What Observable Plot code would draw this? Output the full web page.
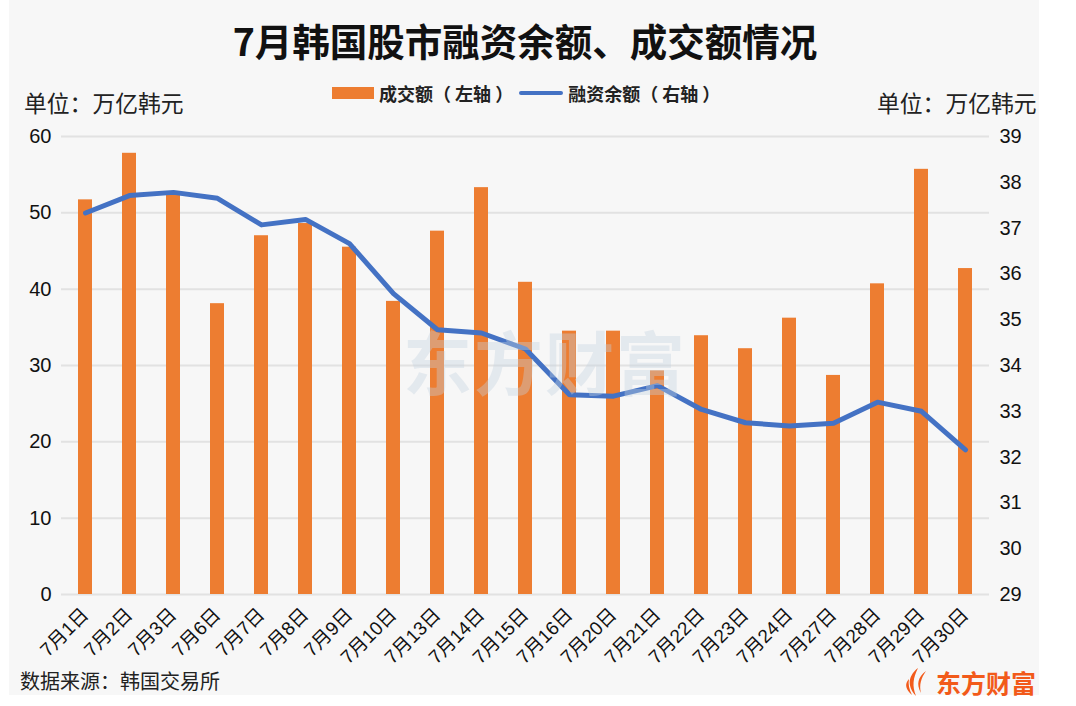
<!DOCTYPE html>
<html>
<head>
<meta charset="utf-8">
<script src="https://cdn.jsdelivr.net/npm/d3@7"></script>
<script src="https://cdn.jsdelivr.net/npm/@observablehq/plot@0.6"></script>
<style>
  html, body { margin: 0; padding: 0; background: #ffffff; }
  #wrap { position: relative; width: 1076px; height: 706px; overflow: hidden;
    font-family: "Liberation Sans", Arial, "Noto Sans CJK SC", sans-serif; }
  #bg { position: absolute; left: 9px; top: 0; width: 1030px; height: 695px; background: #f7f7f7; }
  .abs { position: absolute; white-space: nowrap; }
  #title { left: 0; width: 1050px; top: 12px; text-align: center; font-size: 37.5px; font-weight: 700; color: #111;
    font-family: "Noto Sans CJK SC", sans-serif; }
  .unit { top: 86px; font-size: 22.8px; color: #222; font-family: "Noto Sans CJK SC", sans-serif; }
  #legend { top: 80px; left: 332px; font-size: 18px; font-weight: 700; color: #222; font-family: "Noto Sans CJK SC", sans-serif; display: flex; align-items: center; }
  #source { left: 20px; top: 666px; font-size: 20px; color: #222; font-family: "Noto Sans CJK SC", sans-serif; }
  #logo { left: 903px; top: 664px; font-size: 25px; font-weight: 700; color: #f25a1a; font-family: "Noto Sans CJK SC", sans-serif; display: flex; align-items: center; }
  #wm { left: 403px; top: 310px; font-size: 69px; font-weight: 700; color: #c5d3e0; opacity: 0.38; font-family: "Noto Sans CJK SC", sans-serif; letter-spacing: 2px; pointer-events: none; }
  #chart { position: absolute; left: 0; top: 0; }
</style>
</head>
<body>
<div id="wrap">
  <div id="bg"></div>
  <div id="chart"></div>
  <div class="abs" id="title">7月韩国股市融资余额、成交额情况</div>
  <div class="abs unit" style="left:24px;">单位：万亿韩元</div>
  <div class="abs unit" style="left:877px;">单位：万亿韩元</div>
  <div class="abs" id="legend"></div>
  <div class="abs" id="source">数据来源：韩国交易所</div>
  <div class="abs" id="logo">
    <svg width="28" height="30" viewBox="0 0 28 30" style="margin-right:5px">
      <path d="M15 1 C6 8 3 18 13 29 C9 19 10 11 15 1 Z" fill="#f25a1a"/>
      <path d="M23 4 C15 10 13 17 18 26 C16 18 18 11 23 4 Z" fill="#f25a1a"/>
      <path d="M6 12 C1 17 3 23 9 28 C6 22 5 17 6 12 Z" fill="#f25a1a"/>
    </svg>
    <span>东方财富</span>
  </div>
  <div class="abs" id="wm">东方财富</div>
</div>
<script>
const dates = ["7月1日","7月2日","7月3日","7月6日","7月7日","7月8日","7月9日","7月10日","7月13日","7月14日","7月15日","7月16日","7月20日","7月21日","7月22日","7月23日","7月24日","7月27日","7月28日","7月29日","7月30日"];
const turnover = [51.7, 57.8, 52.4, 38.1, 47.0, 48.6, 45.5, 38.4, 47.6, 53.3, 40.9, 34.5, 34.5, 29.3, 33.9, 32.2, 36.2, 28.7, 40.7, 55.7, 42.7];
const marginBal = [37.33, 37.71, 37.78, 37.65, 37.07, 37.19, 36.66, 35.57, 34.78, 34.71, 34.36, 33.36, 33.33, 33.56, 33.04, 32.75, 32.68, 32.74, 33.20, 33.00, 32.16];
const leftTicks = [0, 10, 20, 30, 40, 50, 60];
const rightTicks = [29, 30, 31, 32, 33, 34, 35, 36, 37, 38, 39];

const series = [
  {name: "成交额（ 左轴 ）", color: "#ed7d31", type: "bar"},
  {name: "融资余额（ 右轴 ）", color: "#4472c4", type: "line"}
];

// map right axis values onto the left scale
const rMin = rightTicks[0], rMax = rightTicks[rightTicks.length - 1];
const lMax = leftTicks[leftTicks.length - 1];
const toLeft = v => (v - rMin) / (rMax - rMin) * lMax;

const rows = dates.map((d, i) => ({date: d, turnover: turnover[i], margin: toLeft(marginBal[i])}));

const fontFam = '"Liberation Sans", Arial, "Noto Sans CJK SC", sans-serif';

const chart = Plot.plot({
  width: 1076,
  height: 706,
  marginLeft: 61,
  marginRight: 87,
  marginTop: 136,
  marginBottom: 112,
  style: {background: "transparent", fontFamily: fontFam, overflow: "visible"},
  x: {type: "band", domain: dates, paddingInner: 0.68, paddingOuter: 0.34},
  y: {domain: [0, lMax]},
  marks: [
    Plot.ruleY(leftTicks, {stroke: "#e2e2e2", strokeWidth: 2}),
    Plot.barY(rows, {x: "date", y: "turnover", fill: series[0].color}),
    Plot.line(rows, {x: "date", y: "margin", stroke: series[1].color, strokeWidth: 5, strokeLinejoin: "round", strokeLinecap: "round"}),
    Plot.axisY(leftTicks, {anchor: "left", tickSize: 0, tickPadding: 10, fontSize: 20, fill: "#111", label: null, tickFormat: d => String(d)}),
    Plot.axisY(rightTicks.map(toLeft), {anchor: "right", tickSize: 0, tickPadding: 10, fontSize: 20, fill: "#111", label: null,
      tickFormat: (d, i) => String(rightTicks[i])}),
    Plot.axisX({tickSize: 0, tickPadding: 17, tickRotate: -45, fontSize: 19, fill: "#111", label: null})
  ]
});
document.getElementById("chart").appendChild(chart);

// legend
const lg = document.getElementById("legend");
series.forEach((s, i) => {
  const sw = document.createElement("span");
  sw.style.display = "inline-block";
  if (s.type === "bar") {
    sw.style.width = "42px"; sw.style.height = "12px"; sw.style.background = s.color;
  } else {
    sw.style.width = "44px"; sw.style.height = "4px"; sw.style.background = s.color; sw.style.borderRadius = "2px";
  }
  sw.style.marginRight = "5px";
  if (i > 0) sw.style.marginLeft = "6px";
  const t = document.createElement("span");
  t.textContent = s.name;
  lg.appendChild(sw); lg.appendChild(t);
});
</script>
</body>
</html>
